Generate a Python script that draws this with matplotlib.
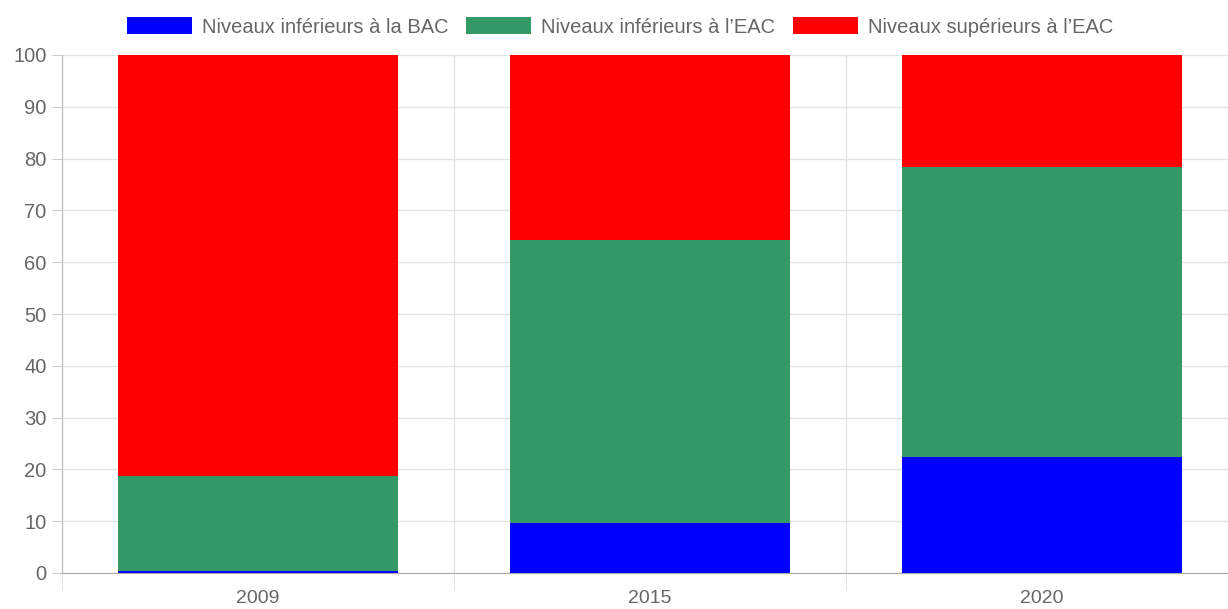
import numpy as np
import matplotlib.pyplot as plt
from matplotlib.ticker import FixedLocator

plt.rcParams['font.family'] = ['Liberation Sans', 'DejaVu Sans']

# data
years = ['2009', '2015', '2020']
bac = [0.4, 9.6, 22.4]
eac_inf = [18.4, 54.7, 55.9]
eac_sup = [81.2, 35.7, 21.7]
labels = ['Niveaux inférieurs à la BAC', 'Niveaux inférieurs à l\u2019EAC',
          'Niveaux supérieurs à l\u2019EAC']
colors = ['#0000ff', '#339966', '#ff0000']

W, H = 1228, 609
fig = plt.figure(figsize=(W / 100, H / 100), dpi=100)
ax = fig.add_axes([62 / W, 1 - 573 / H, (1238 - 62) / W, (573 - 55) / H])

x = np.arange(len(years))
bottom = np.zeros(len(years))
handles = []
for vals, lab, col in zip([bac, eac_inf, eac_sup], labels, colors):
    b = ax.bar(x, vals, width=0.715, bottom=bottom, color=col, label=lab,
               edgecolor='none', zorder=3)
    handles.append(b)
    bottom += np.array(vals)

ax.set_xlim(-0.5, 2.5)
ax.set_ylim(0, 100)
ax.set_yticks(np.arange(0, 101, 10))
ax.set_xticks(x)
ax.set_xticklabels(years)
ax.xaxis.set_minor_locator(FixedLocator([-0.5, 0.5, 1.5, 2.5]))

ax.grid(axis='y', color='#e3e3e3', linewidth=1, zorder=0)
ax.grid(axis='x', which='minor', color='#e3e3e3', linewidth=1, zorder=0)

tcol = '#666666'
ax.tick_params(axis='y', labelsize=14.5, colors='#cccccc', labelcolor=tcol,
               length=7, pad=4)
ax.tick_params(axis='x', which='major', labelsize=14, labelcolor=tcol,
               length=0, pad=12)
ax.tick_params(axis='x', which='minor', length=12, color='#dddddd')

for s in ['top', 'right']:
    ax.spines[s].set_visible(False)
ax.spines['left'].set_color('#bbbbbb')
ax.spines['bottom'].set_color('#aaaaaa')

leg = fig.legend(handles=handles, loc='center', bbox_to_anchor=(620 / W, 1 - 27 / H),
                 ncol=3, frameon=False, fontsize=14.5, handlelength=3.25,
                 handleheight=0.9, handletextpad=0.5, columnspacing=0.85)
for t in leg.get_texts():
    t.set_color(tcol)

fig.savefig('out.png', dpi=100)
